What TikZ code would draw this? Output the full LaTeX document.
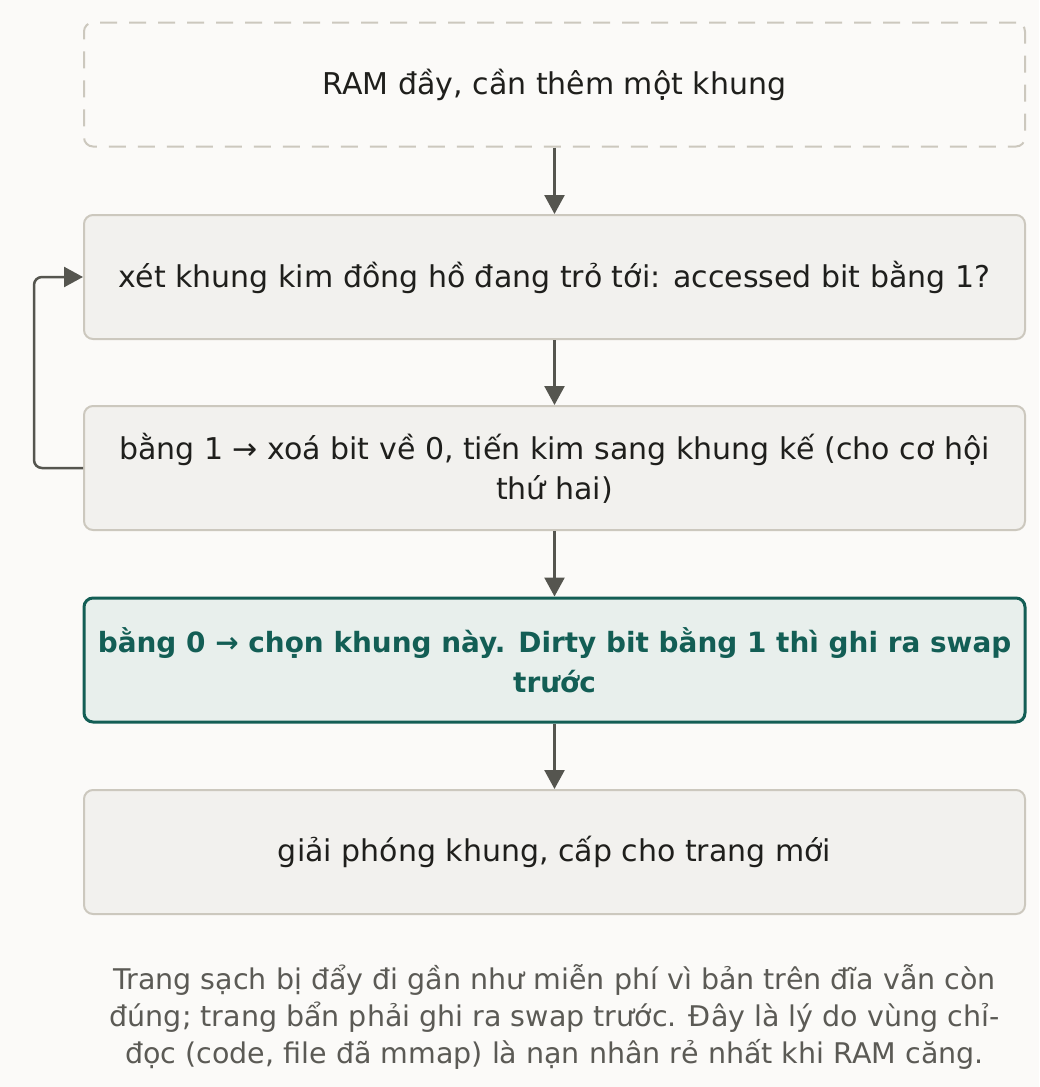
\documentclass[tikz,border=0pt]{standalone}
\usepackage{fontspec}
\setmainfont{DejaVu Sans}
\usetikzlibrary{arrows.meta}
\definecolor{bgc}{HTML}{FBFAF8}
\definecolor{boxfill}{HTML}{F2F1EE}
\definecolor{boxline}{HTML}{CCC8BE}
\definecolor{txt}{HTML}{1F1F1C}
\definecolor{arr}{HTML}{55554F}
\definecolor{teal}{HTML}{135E55}
\definecolor{tealfill}{HTML}{E8EFEC}
\definecolor{capc}{HTML}{5B5A55}
\tikzset{
  flowbox/.style={draw=boxline, fill=boxfill, line width=2pt, rounded corners=9pt,
    minimum width=941pt, minimum height=124pt, text=txt, align=center,
    font=\fontsize{30}{40}\selectfont, inner sep=0pt},
  startbox/.style={flowbox, fill=bgc, dash pattern=on 17pt off 12pt},
  keybox/.style={flowbox, draw=teal, fill=tealfill, line width=3pt, text=teal,
    font=\fontsize{27.9}{40}\selectfont\bfseries},
  conn/.style={draw=arr, line width=2.5pt, -{Triangle[width=20pt,length=19pt]}},
  captext/.style={text=capc, align=center, font=\fontsize{28.5}{37}\selectfont, inner sep=0pt}
}
\begin{document}
\begin{tikzpicture}[x=1pt,y=-1pt]
\fill[bgc] (0,0) rectangle (1039,1087);
\useasboundingbox (0,0) rectangle (1039,1087);
\node[startbox] (b1) at (554.5,84.5) {RAM đầy, cần thêm một khung};
\node[flowbox] (b2) at (554.5,277) {xét khung kim đồng hồ đang trỏ tới: accessed bit bằng 1?};
\node[flowbox] (b3) at (554.5,468) {bằng 1 → xoá bit về 0, tiến kim sang khung kế (cho cơ hội\\thứ hai)};
\node[keybox] (b4) at (554.5,660) {bằng 0 → chọn khung này. Dirty bit bằng 1 thì ghi ra swap\\trước};
\node[flowbox] (b5) at (554.5,852) {giải phóng khung, cấp cho trang mới};
\node[captext] (cap) at (554.5,1017) {Trang sạch bị đẩy đi gần như miễn phí vì bản trên đĩa vẫn còn\\đúng; trang bẩn phải ghi ra swap trước. Đây là lý do vùng chỉ-\\đọc (code, file đã mmap) là nạn nhân rẻ nhất khi RAM căng.};
\draw[conn] (b1) -- (b2);
\draw[conn] (b2) -- (b3);
\draw[conn] (b3) -- (b4);
\draw[conn] (b4) -- (b5);
\draw[conn, rounded corners=8pt] (b3.west) -- ++(-49,0) |- (b2.west);
\end{tikzpicture}
\end{document}
